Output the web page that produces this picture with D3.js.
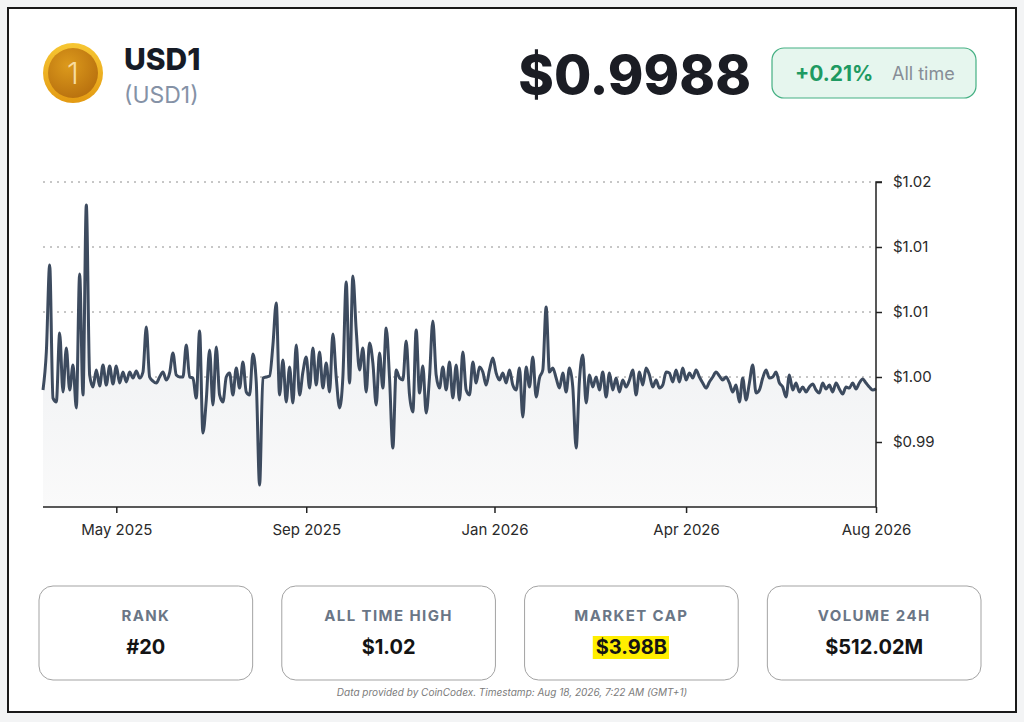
<!DOCTYPE html>
<html>
<head>
<meta charset="utf-8">
<script src="https://cdn.jsdelivr.net/npm/d3@7"></script>
<style>
  html, body { margin: 0; padding: 0; background: #f3f4f5; }
  svg { display: block; font-family: Inter, "Noto Sans", sans-serif; }
</style>
</head>
<body>
<div class="vis"></div>
<script>
// price series, one point every 2 days from Apr 5 2025 to Aug 18 2026
const startDate = "2025-04-05";
const stepDays = 2;
const prices = [
  0.9990, 1.00192, 1.00862, 0.99838, 0.99808, 1.00338, 0.99885, 1.00223, 0.9990, 1.00092,
  0.99762, 1.00792, 0.99862, 1.01323, 1.00015, 0.99923, 1.00054, 0.99931, 1.00092, 0.99938,
  1.00085, 0.99946, 1.00085, 0.99954, 1.00038, 0.99962, 1.00038, 0.99992, 1.00046, 0.99992,
  1.00038, 1.00385, 1.0, 0.99969, 0.99954, 1.0, 1.00038, 0.99977, 1.00031, 1.00185,
  1.00015, 1.0, 1.0, 1.00246, 1.0, 0.99992, 0.99838, 1.00354, 0.99569, 0.99823,
  1.00208, 0.99785, 1.00231, 0.99862, 0.99808, 1.0, 1.00031, 0.99862, 1.00069, 0.99915,
  1.00115, 0.99885, 0.99862, 1.00177, 0.99962, 0.99169, 0.99992, 1.0, 1.00008, 1.00246,
  1.00569, 0.99862, 1.00131, 0.99808, 1.00077, 0.9980, 1.00246, 0.99862, 1.00038, 1.00154,
  0.99915, 1.00223, 0.99938, 1.00192, 0.99915, 1.00108, 0.99885, 1.00331, 1.0, 0.99762,
  1.0, 1.00731, 0.99954, 1.00777, 1.00362, 1.00054, 1.00223, 0.99885, 1.00262, 1.00108,
  0.99785, 1.00185, 0.99915, 1.00377, 0.99992, 0.99454, 1.00054, 0.99992, 0.99977, 1.00277,
  0.99862, 0.99731, 1.00362, 0.99877, 1.00085, 0.99723, 1.0, 1.00431, 1.00015, 0.99915,
  1.00077, 0.9990, 1.00115, 0.99838, 1.00092, 0.99823, 1.00192, 0.9990, 0.99862, 1.00115,
  0.99954, 1.00077, 1.00038, 0.99938, 1.00054, 1.00146, 1.00031, 0.99977, 1.00031, 0.99954,
  1.00054, 0.99938, 0.9990, 1.00069, 0.99692, 1.00077, 0.99923, 1.00154, 0.99846, 0.99992,
  1.00054, 1.00538, 1.00038, 1.00069, 0.99992, 0.99915, 1.00031, 0.99885, 1.00069, 0.99923,
  0.99454, 0.99977, 1.00169, 0.9980, 1.00015, 0.99923, 1.0, 0.9990, 1.00038, 0.99846,
  1.00031, 0.9990, 0.99992, 0.99885, 0.99977, 0.99923, 0.99977, 1.00054, 0.99862, 1.00038,
  0.99938, 1.00069, 1.00015, 0.99923, 0.99977, 0.99915, 0.99938, 1.00038, 1.00031, 0.99962,
  1.00054, 0.99962, 1.00069, 0.99977, 1.00031, 0.99992, 1.00054, 1.0, 0.99954, 0.99915,
  0.99962, 1.0, 1.00038, 1.00008, 0.99977, 1.0, 0.99954, 0.99885, 0.99938, 0.99808,
  0.99992, 0.99823, 0.99954, 1.00092, 0.99877, 0.9990, 0.99992, 1.00054, 0.99992, 1.0,
  1.00038, 0.99954, 0.99923, 0.99846, 1.00015, 0.9990, 0.99954, 0.99885, 0.99923, 0.99885,
  0.99923, 0.99946, 0.9990, 0.99877, 0.99954, 0.99908, 0.99938, 0.99885, 0.99954, 0.99908,
  0.99869, 0.99923, 0.99915, 0.99954, 0.99908, 0.99954, 0.99985, 0.99954, 0.99923, 0.9990,
  0.9991
];

const yTicks = [0.995, 1.0, 1.005, 1.01, 1.015];
const yTickLabels = ["$0.99", "$1.00", "$1.01", "$1.01", "$1.02"];
const xTickDates = ["2025-05-19", "2025-09-10", "2026-01-01", "2026-04-26", "2026-08-18"];

const coinName = "USD1";
const coinSymbol = "(USD1)";
const priceText = "$0.9988";
const changeText = "+0.21%";
const changeLabel = "All time";
const statLabels = ["RANK", "ALL TIME HIGH", "MARKET CAP", "VOLUME 24H"];
const statValues = ["#20", "$1.02", "$3.98B", "$512.02M"];
const footerText = "Data provided by CoinCodex. Timestamp: Aug 18, 2026, 7:22 AM (GMT+1)";

const W = 1024, H = 722;
const parse = d3.utcParse("%Y-%m-%d");
const t0 = parse(startDate);
const data = prices.map((p, i) => ({ date: d3.utcDay.offset(t0, i * stepDays), price: p }));

const svg = d3.select(".vis").append("svg").attr("width", W).attr("height", H);

// frame
svg.append("rect").attr("x", 8).attr("y", 8).attr("width", 1008).attr("height", 704)
    .attr("fill", "#fff").attr("stroke", "#1a1a1a").attr("stroke-width", 2);

// coin icon
const defs = svg.append("defs");
const cg = defs.append("radialGradient").attr("id", "coin").attr("cx", "40%").attr("cy", "35%").attr("r", "70%");
cg.append("stop").attr("offset", "0%").attr("stop-color", "#dc9a1c");
cg.append("stop").attr("offset", "100%").attr("stop-color", "#b8700e");
const rg = defs.append("linearGradient").attr("id", "ring").attr("x1", 0).attr("y1", 0).attr("x2", 0).attr("y2", 1);
rg.append("stop").attr("offset", "0%").attr("stop-color", "#f7c733");
rg.append("stop").attr("offset", "100%").attr("stop-color", "#e39a12");
svg.append("circle").attr("cx", 73).attr("cy", 73).attr("r", 30).attr("fill", "url(#ring)");
svg.append("circle").attr("cx", 73).attr("cy", 73).attr("r", 25).attr("fill", "url(#coin)");
svg.append("text").attr("x", 73).attr("y", 84).attr("text-anchor", "middle")
    .style("font-size", "30px").style("font-weight", 300).attr("fill", "#f8dca0").text("1");

svg.append("text").attr("x", 124).attr("y", 70).style("font-size", "30px").style("font-weight", 800)
    .attr("fill", "#161b26").text(coinName);
svg.append("text").attr("x", 124).attr("y", 103).style("font-size", "23px").style("font-weight", 400)
    .attr("fill", "#8592a6").text(coinSymbol);

svg.append("text").attr("x", 751).attr("y", 94).attr("text-anchor", "end")
    .style("font-size", "54px").style("font-weight", 800).attr("fill", "#1b1d24").text(priceText);

svg.append("rect").attr("x", 772).attr("y", 48).attr("width", 204).attr("height", 50).attr("rx", 12)
    .attr("fill", "#e6f6ee").attr("stroke", "#45b083").attr("stroke-width", 1.2);
svg.append("text").attr("x", 795).attr("y", 81).style("font-size", "21px").style("font-weight", 700)
    .attr("fill", "#1e9a62").text(changeText);
svg.append("text").attr("x", 892).attr("y", 80).style("font-size", "18px").style("font-weight", 400)
    .attr("fill", "#878d96").text(changeLabel);

// chart
const plotL = 43, plotR = 876, plotT = 182, plotB = 507;
const x = d3.scaleUtc().domain([t0, parse(xTickDates[xTickDates.length - 1])]).range([plotL, plotR]);
const y = d3.scaleLinear().domain([0.99, 1.015]).range([plotB, plotT]);

const ag = defs.append("linearGradient").attr("id", "area").attr("x1", 0).attr("y1", 0).attr("x2", 0).attr("y2", 1);
ag.append("stop").attr("offset", "0%").attr("stop-color", "#e8ebef");
ag.append("stop").attr("offset", "100%").attr("stop-color", "#fafafa");

const area = d3.area().x(d => x(d.date)).y0(plotB).y1(d => y(d.price)).curve(d3.curveMonotoneX);
const line = d3.line().x(d => x(d.date)).y(d => y(d.price)).curve(d3.curveMonotoneX);

const g = svg.append("g");
g.append("g").selectAll("line").data(yTicks).join("line")
    .attr("x1", plotL).attr("x2", plotR).attr("y1", d => y(d)).attr("y2", d => y(d))
    .attr("stroke", "#8e8e8e").attr("stroke-width", 1).attr("stroke-dasharray", "2,5");

g.append("path").datum(data).attr("d", area).attr("fill", "url(#area)");
g.append("path").datum(data).attr("d", line).attr("fill", "none")
    .attr("stroke", "#3d4b5f").attr("stroke-width", 3).attr("stroke-linejoin", "round");

const yAxis = g.append("g").attr("transform", `translate(${plotR},0)`)
    .call(d3.axisRight(y).tickValues(yTicks).tickSize(6).tickPadding(11)
        .tickFormat((d, i) => yTickLabels[i]));
yAxis.select(".domain").attr("d", `M6,${plotT}H0V${plotB}`).attr("stroke", "#222").attr("stroke-width", 1.5);
yAxis.selectAll(".tick line").attr("stroke", "#222").attr("stroke-width", 1.5);
yAxis.selectAll("text").style("font-size", "15px").style("font-family", "Inter, sans-serif").attr("fill", "#2a2a2a");

const xAxis = g.append("g").attr("transform", `translate(0,${plotB})`)
    .call(d3.axisBottom(x).tickValues(xTickDates.map(parse)).tickSize(6).tickPadding(11)
        .tickFormat(d3.utcFormat("%b %Y")));
xAxis.select(".domain").attr("d", `M${plotL},0H${plotR}`).attr("stroke", "#222").attr("stroke-width", 1.5);
xAxis.selectAll(".tick line").attr("stroke", "#222").attr("stroke-width", 1.5);
xAxis.selectAll("text").style("font-size", "15px").style("font-family", "Inter, sans-serif").attr("fill", "#2a2a2a");

// stat cards
const cardX = d3.scaleBand().domain(statLabels).range([39, 981]).paddingInner(0.12);
const cards = svg.append("g").selectAll("g").data(statLabels).join("g")
    .attr("transform", d => `translate(${cardX(d)},586)`);
cards.append("rect").attr("width", cardX.bandwidth()).attr("height", 94).attr("rx", 14)
    .attr("fill", "#fff").attr("stroke", "#a3a3a3").attr("stroke-width", 1);
cards.append("text").attr("x", cardX.bandwidth() / 2).attr("y", 35).attr("text-anchor", "middle")
    .style("font-size", "15px").style("font-weight", 700).style("letter-spacing", "1.4px")
    .attr("fill", "#6a7686").text(d => d);
cards.each(function (d, i) {
    const c = d3.select(this);
    const t = c.append("text").attr("x", cardX.bandwidth() / 2).attr("y", 68).attr("text-anchor", "middle")
        .style("font-size", "20px").style("font-weight", 700).attr("fill", "#141414").text(statValues[i]);
    if (d === "MARKET CAP") {
        const bb = t.node().getBBox();
        c.insert("rect", "text").attr("x", bb.x - 3).attr("y", bb.y + 1).attr("width", bb.width + 5)
            .attr("height", bb.height - 1).attr("fill", "#ffee00");
    }
});

svg.append("text").attr("x", 512).attr("y", 696).attr("text-anchor", "middle")
    .style("font-size", "10px").style("font-style", "italic").attr("fill", "#7b7b7b").text(footerText);
</script>
</body>
</html>
